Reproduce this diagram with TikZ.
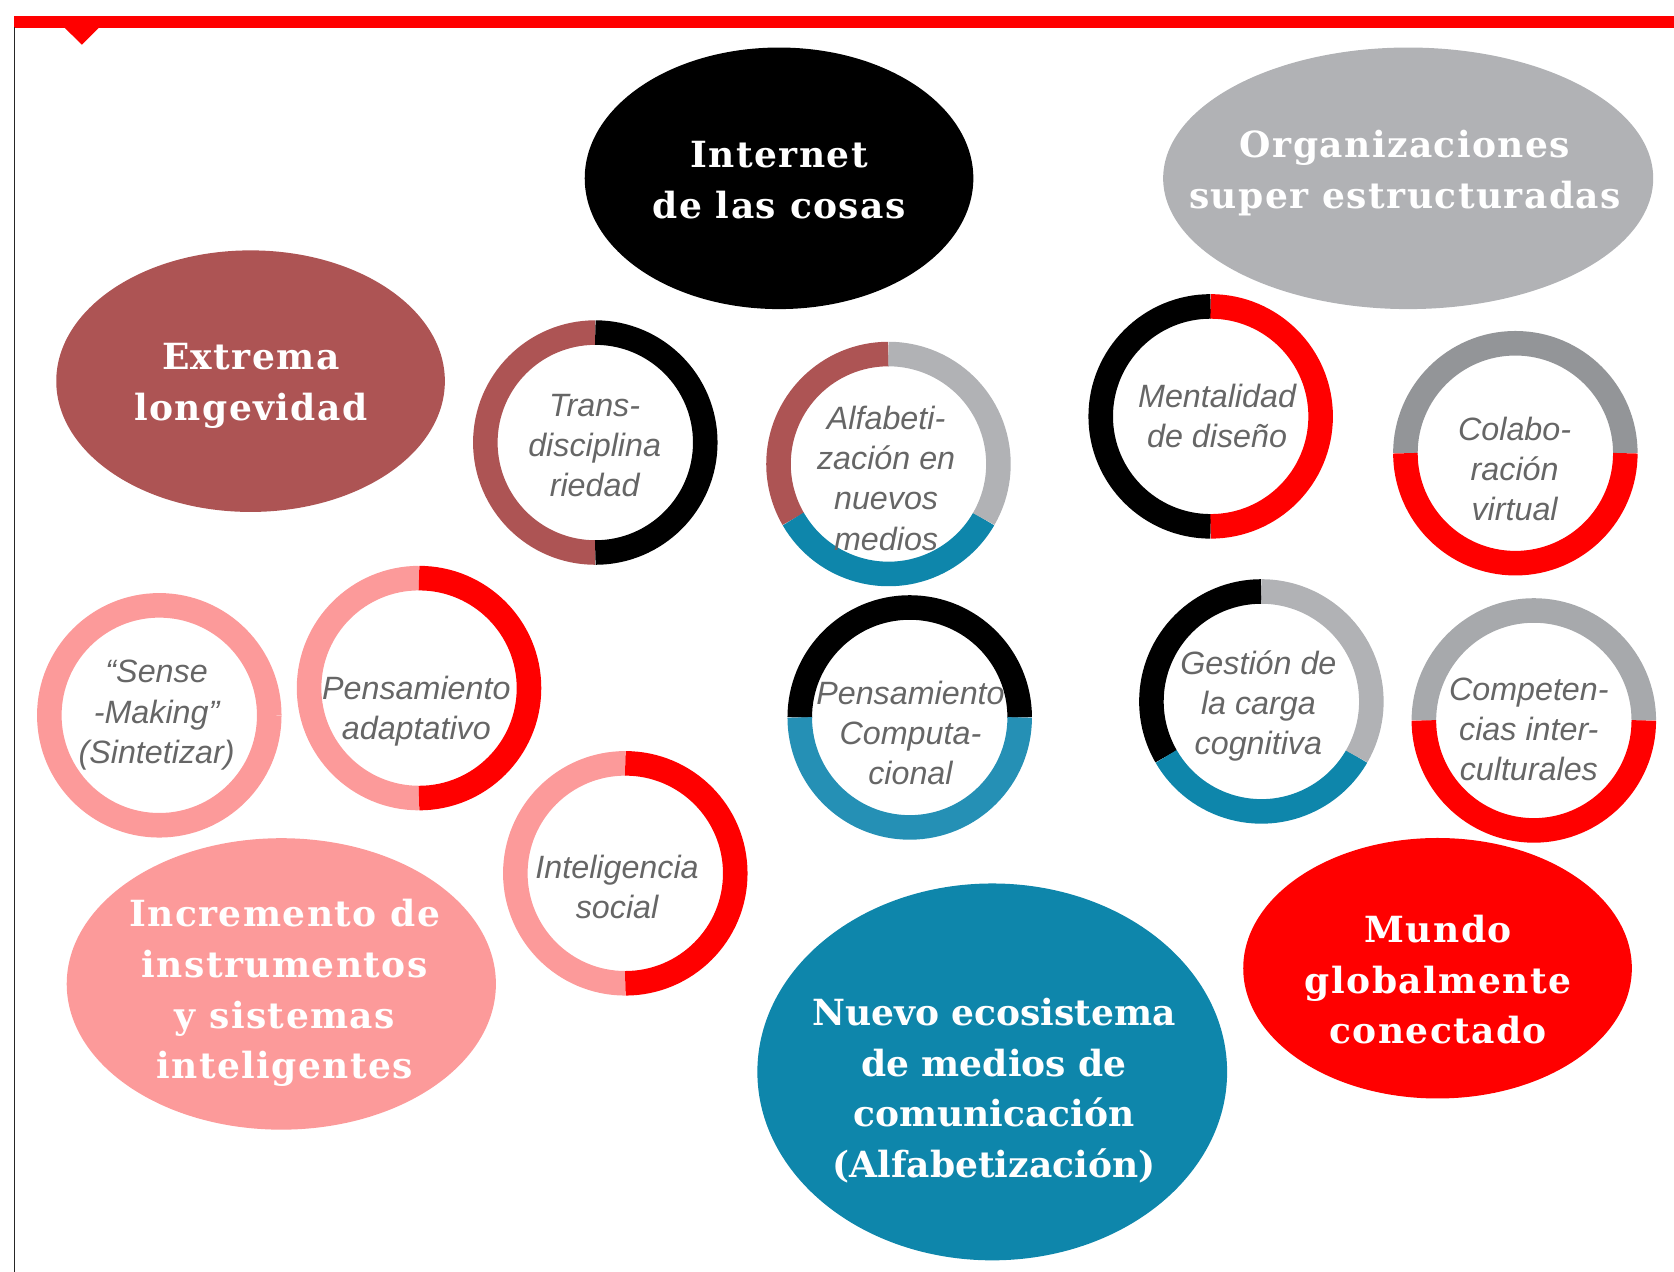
\documentclass[tikz,border=0pt]{standalone}
\usepackage{fontspec}
\setmainfont{DejaVu Serif}
\newfontfamily\topicfont[LetterSpace=4]{DejaVu Serif}
\newfontfamily\skillfont{Liberation Sans}
\usepackage{tikz}
\usetikzlibrary{
    shapes.geometric
}
\definecolor{mapred}{RGB}{255,0,0}
\definecolor{mapbrown}{RGB}{173,84,84}
\definecolor{mappink}{RGB}{252,154,154}
\definecolor{mapgrey}{RGB}{177,178,181}
\definecolor{mapmidgrey}{RGB}{167,169,172}
\definecolor{mapdarkgrey}{RGB}{147,149,152}
\definecolor{mapteal}{RGB}{14,134,171}
\definecolor{maplightteal}{RGB}{37,144,181}
\definecolor{maptext}{RGB}{102,102,102}
\tikzset{
    % Ellipse styles
    topic ellipse/.style={
        ellipse,
        inner sep=0pt,
        minimum width=3.64cm,
        minimum height=2.45cm
    },
    topic text/.style={
        text=white,
        align=center,
        inner sep=0pt,
        font=\topicfont\fontsize{9.6}{13.5}\selectfont\bfseries
    },
    % Ring styles
    ring arc/.style={
        line width=0.23cm
    },
    skill text/.style={
        text=maptext,
        align=center,
        inner sep=0pt,
        font=\skillfont\itshape\fontsize{8.6}{10.7}\selectfont
    }
}
% one coloured piece of a ring: centre, colour, start angle, end angle
\newcommand{\ringpart}[4]{%
    \draw[ring arc, #2] (#1) ++(#3:1.03) arc[start angle=#3, end angle=#4, radius=1.03];
}

\begin{document}
\begin{tikzpicture}
    \useasboundingbox (0,0) rectangle (15.68,-11.91);

    % frame
    \fill[mapred] (0.127,-0.152) rectangle (15.68,-0.258);
    \fill[mapred] (0.60,-0.255) -- (0.93,-0.255) -- (0.767,-0.418) -- cycle;
    \draw[line width=0.017cm, black!85] (0.135,-0.255) -- (0.135,-11.91);

    % big topics
    \node[topic ellipse, fill=black] (iot) at (7.297,-1.67) {};
    \node[topic text] (iot text) at (7.297,-1.685) {Internet\\de las cosas};

    \node[topic ellipse, fill=mapgrey, minimum width=4.59cm] (org) at (13.19,-1.67) {};
    \node[topic text] (org text) at (13.16,-1.62) {Organizaciones\\super estructuradas};

    \node[topic ellipse, fill=mapbrown] (ext) at (2.347,-3.57) {};
    \node[topic text] (ext text) at (2.35,-3.615) {Extrema\\longevidad};

    \node[topic ellipse, fill=mappink, minimum width=4.02cm, minimum height=2.73cm] (inc) at (2.635,-9.216) {};
    \node[topic text] (inc text) at (2.667,-9.303) {Incremento de\\instrumentos\\y sistemas\\inteligentes};

    \node[topic ellipse, fill=mapteal, minimum width=4.40cm, minimum height=3.53cm] (nue) at (9.294,-10.04) {};
    \node[topic text, font=\fontsize{9.6}{13.5}\selectfont\bfseries] (nue text) at (9.31,-10.215) {Nuevo ecosistema\\de medios de\\comunicación\\(Alfabetización)};

    \node[topic ellipse, fill=mapred, minimum width=3.64cm, minimum height=2.44cm] (mun) at (13.465,-9.069) {};
    \node[topic text] (mun text) at (13.47,-9.177) {Mundo\\globalmente\\conectado};

    % skill rings
    \coordinate (trans ring) at (5.576,-4.145);
    \ringpart{trans ring}{mapbrown}{90}{270}
    \ringpart{trans ring}{black}{-90}{90}
    \node[skill text] (trans) at (5.57,-4.176) {Trans-\\disciplina\\riedad};

    \coordinate (alfa ring) at (8.322,-4.346);
    \ringpart{alfa ring}{mapbrown}{90}{210}
    \ringpart{alfa ring}{mapteal}{210}{330}
    \ringpart{alfa ring}{mapgrey}{-30}{90}
    \node[skill text] (alfa) at (8.30,-4.48) {Alfabeti-\\zación en\\nuevos\\medios};

    \coordinate (mental ring) at (11.34,-3.90);
    \ringpart{mental ring}{black}{90}{270}
    \ringpart{mental ring}{mapred}{-90}{90}
    \node[skill text] (mental) at (11.40,-3.895) {Mentalidad\\de diseño};

    \coordinate (colab ring) at (14.194,-4.245);
    \ringpart{colab ring}{mapdarkgrey}{0}{180}
    \ringpart{colab ring}{mapred}{180}{360}
    \node[skill text] (colab) at (14.187,-4.394) {Colabo-\\ración\\virtual};

    \coordinate (sense ring) at (1.492,-6.70);
    \ringpart{sense ring}{mappink}{0}{360}
    \node[skill text] (sense) at (1.467,-6.698) {“Sense\\-Making”\\(Sintetizar)};

    \coordinate (adapt ring) at (3.925,-6.445);
    \ringpart{adapt ring}{mappink}{90}{270}
    \ringpart{adapt ring}{mapred}{-90}{90}
    \node[skill text] (adapt) at (3.90,-6.66) {Pensamiento\\adaptativo};

    \coordinate (intel ring) at (5.857,-8.18);
    \ringpart{intel ring}{mappink}{90}{270}
    \ringpart{intel ring}{mapred}{-90}{90}
    \node[skill text] (intel) at (5.78,-8.305) {Inteligencia\\social};

    \coordinate (compu ring) at (8.521,-6.72);
    \ringpart{compu ring}{black}{0}{180}
    \ringpart{compu ring}{maplightteal}{180}{360}
    \node[skill text] (compu) at (8.528,-6.865) {Pensamiento\\Computa-\\cional};

    \coordinate (gest ring) at (11.815,-6.57);
    \ringpart{gest ring}{black}{90}{210}
    \ringpart{gest ring}{mapteal}{210}{330}
    \ringpart{gest ring}{mapgrey}{-30}{90}
    \node[skill text] (gest) at (11.787,-6.612) {Gestión de\\la carga\\cognitiva};

    \coordinate (compe ring) at (14.367,-6.748);
    \ringpart{compe ring}{mapmidgrey}{0}{180}
    \ringpart{compe ring}{mapred}{180}{360}
    \node[skill text] (compe) at (14.32,-6.833) {Competen-\\cias inter-\\culturales};
\end{tikzpicture}
\end{document}
